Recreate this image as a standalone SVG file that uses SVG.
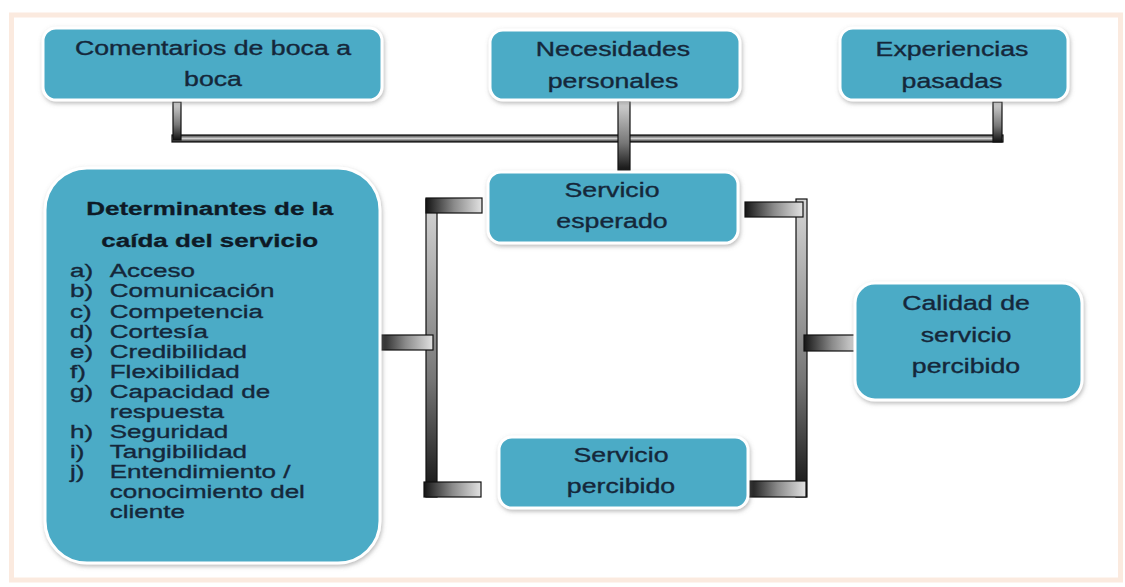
<svg xmlns="http://www.w3.org/2000/svg" width="1125" height="587" viewBox="0 0 1125 587">
<defs>
<linearGradient id="gH" x1="0" y1="0" x2="1" y2="0"><stop offset="0" stop-color="#151515"/><stop offset="0.5" stop-color="#8a8a8a"/><stop offset="1" stop-color="#e2e2e2"/></linearGradient>
<linearGradient id="gV" x1="0" y1="0" x2="0" y2="1"><stop offset="0" stop-color="#d6d6d6"/><stop offset="0.6" stop-color="#777"/><stop offset="1" stop-color="#111"/></linearGradient>
<linearGradient id="gT" x1="0" y1="0" x2="0" y2="1"><stop offset="0" stop-color="#333"/><stop offset="0.5" stop-color="#cfcfcf"/><stop offset="1" stop-color="#222"/></linearGradient>
<filter id="sh" x="-10%" y="-10%" width="120%" height="130%"><feDropShadow dx="1" dy="2" stdDeviation="2" flood-color="#777" flood-opacity="0.5"/></filter>
</defs>
<style>
.box{fill:#4babc6;stroke:#ffffff;stroke-width:3;filter:url(#sh)}
.t{font-family:"Liberation Sans",Arial,sans-serif;font-size:19.5px;fill:#15273a;stroke:#15273a;stroke-width:0.35;text-anchor:middle}
.b{font-family:"Liberation Sans",Arial,sans-serif;font-size:19px;font-weight:bold;fill:#0e1a26;stroke:#0e1a26;stroke-width:0.3;text-anchor:middle}
.l{font-family:"Liberation Sans",Arial,sans-serif;font-size:19px;fill:#15273a;stroke:#15273a;stroke-width:0.35}
.bar{stroke:#111;stroke-width:1.2}
</style>
<rect x="0" y="0" width="1125" height="587" fill="#ffffff"/>
<rect x="11.5" y="15" width="1109" height="565" fill="#ffffff" stroke="#fbeadf" stroke-width="5"/>
<g id="connectors">
<rect class="bar" x="172" y="135" width="831" height="7" fill="url(#gT)"/>
<rect class="bar" x="173" y="102" width="8" height="38" fill="url(#gV)"/>
<rect class="bar" x="618" y="101" width="12" height="70" fill="url(#gV)"/>
<rect class="bar" x="993" y="102" width="9" height="40" fill="url(#gV)"/>
<rect class="bar" x="426" y="199" width="11" height="298" fill="url(#gV)"/>
<rect class="bar" x="426" y="198" width="56" height="15" fill="url(#gH)"/>
<rect class="bar" x="378" y="335" width="55" height="15" fill="url(#gH)"/>
<rect class="bar" x="424" y="482" width="57" height="15" fill="url(#gH)"/>
<rect class="bar" x="796" y="199" width="11" height="298" fill="url(#gV)"/>
<rect class="bar" x="745" y="202" width="58" height="15" fill="url(#gH)"/>
<rect class="bar" x="804" y="335" width="56" height="16" fill="url(#gH)"/>
<rect class="bar" x="749" y="481" width="57" height="16" fill="url(#gH)"/>
</g>
<g id="comentarios">
<rect class="box" x="43" y="28" width="339" height="72" rx="13"/>
<text class="t" transform="translate(213,55) scale(1.37,1)">Comentarios de boca a</text>
<text class="t" transform="translate(213,86) scale(1.37,1)">boca</text>
</g>
<g id="necesidades">
<rect class="box" x="490" y="30" width="250" height="70" rx="13"/>
<text class="t" transform="translate(613,56) scale(1.37,1)">Necesidades</text>
<text class="t" transform="translate(613,88) scale(1.37,1)">personales</text>
</g>
<g id="experiencias">
<rect class="box" x="840" y="28" width="228" height="72" rx="13"/>
<text class="t" transform="translate(952,56) scale(1.37,1)">Experiencias</text>
<text class="t" transform="translate(952,88) scale(1.37,1)">pasadas</text>
</g>
<g id="esperado">
<rect class="box" x="488" y="172" width="250" height="71" rx="13"/>
<text class="t" transform="translate(612,197) scale(1.37,1)">Servicio</text>
<text class="t" transform="translate(612,228) scale(1.37,1)">esperado</text>
</g>
<g id="percibido">
<rect class="box" x="499" y="437" width="249" height="71" rx="13"/>
<text class="t" transform="translate(621,462) scale(1.37,1)">Servicio</text>
<text class="t" transform="translate(621,493) scale(1.37,1)">percibido</text>
</g>
<g id="calidad">
<rect class="box" x="855" y="283" width="227" height="117" rx="20"/>
<text class="t" transform="translate(966,310) scale(1.37,1)">Calidad de</text>
<text class="t" transform="translate(966,342) scale(1.37,1)">servicio</text>
<text class="t" transform="translate(966,373) scale(1.37,1)">percibido</text>
</g>
<g id="determinantes">
<rect class="box" x="45" y="168" width="335" height="395" rx="42"/>
<g transform="translate(70,0) scale(1.37,1)">
<text class="b" x="102" y="215">Determinantes de la</text>
<text class="b" x="102" y="247">caída del servicio</text>
<text class="l" x="0" y="277">a)</text><text class="l" x="29" y="277">Acceso</text>
<text class="l" x="0" y="297">b)</text><text class="l" x="29" y="297">Comunicación</text>
<text class="l" x="0" y="318">c)</text><text class="l" x="29" y="318">Competencia</text>
<text class="l" x="0" y="338">d)</text><text class="l" x="29" y="338">Cortesía</text>
<text class="l" x="0" y="358">e)</text><text class="l" x="29" y="358">Credibilidad</text>
<text class="l" x="0" y="378">f)</text><text class="l" x="29" y="378">Flexibilidad</text>
<text class="l" x="0" y="398">g)</text><text class="l" x="29" y="398">Capacidad de</text>
<text class="l" x="29" y="418">respuesta</text>
<text class="l" x="0" y="438">h)</text><text class="l" x="29" y="438">Seguridad</text>
<text class="l" x="0" y="458">i)</text><text class="l" x="29" y="458">Tangibilidad</text>
<text class="l" x="0" y="478">j)</text><text class="l" x="29" y="478">Entendimiento /</text>
<text class="l" x="29" y="498">conocimiento del</text>
<text class="l" x="29" y="518">cliente</text>
</g>
</g>
</svg>
